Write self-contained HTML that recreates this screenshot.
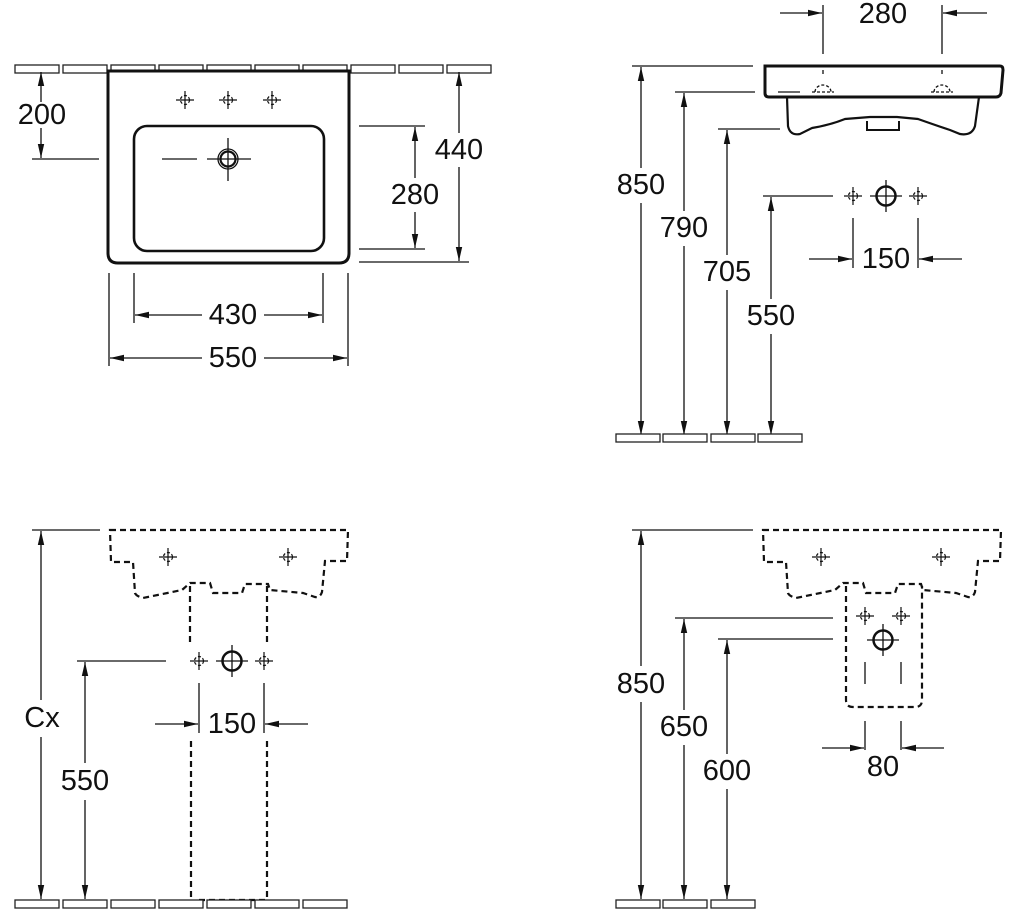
<!DOCTYPE html>
<html><head><meta charset="utf-8"><style>
html,body{margin:0;padding:0;background:#fff;}
svg{display:block}
text{font-family:"Liberation Sans",sans-serif;font-size:29px;fill:#111;text-anchor:middle;dominant-baseline:central}
</style></head><body>
<svg width="1024" height="915" viewBox="0 0 1024 915" xmlns="http://www.w3.org/2000/svg">
<defs>
<marker id="a" viewBox="0 0 14 7" refX="14" refY="3.5" markerWidth="14" markerHeight="7" markerUnits="userSpaceOnUse" orient="auto"><path d="M0,0.3 L14,3.5 L0,6.7z" fill="#111"/></marker>
<g id="tap"><circle r="4.5" fill="none" stroke="#111" stroke-width="1.2" stroke-dasharray="3 2"/><path d="M-9,0H9M0,-9V9" stroke="#111" stroke-width="1.2"/></g>
<g id="big"><circle r="9.5" fill="none" stroke="#111" stroke-width="2.5"/><path d="M-16,0H16M0,-16V16" stroke="#111" stroke-width="1.3"/></g>
<g id="tile"><rect x="0" y="0" width="44" height="8" fill="#fff" stroke="#222" stroke-width="1.3"/></g>
</defs>
<g stroke="#111" fill="none" stroke-width="1.3">
<!-- Panel 1 -->
<use href="#tile" x="15" y="65"/><use href="#tile" x="63" y="65"/><use href="#tile" x="111" y="65"/><use href="#tile" x="159" y="65"/><use href="#tile" x="207" y="65"/><use href="#tile" x="255" y="65"/><use href="#tile" x="303" y="65"/><use href="#tile" x="351" y="65"/><use href="#tile" x="399" y="65"/><use href="#tile" x="447" y="65"/>
<path d="M108,71 H349 V253 Q349,263 339,263 H118 Q108,263 108,253 Z" stroke-width="3" fill="#fff"/>
<rect x="134" y="126" width="190" height="125" rx="13" stroke-width="2.6"/>
<use href="#tap" x="185" y="100"/><use href="#tap" x="228" y="100"/><use href="#tap" x="272" y="100"/>
<circle cx="228" cy="159" r="10" stroke-width="1.3"/><circle cx="228" cy="159" r="7.5" stroke-width="2.2"/>
<path d="M162,159H197 M207,159H251 M228,138V181"/>
<path d="M32,159H99"/>
<path d="M41,102V72" marker-end="url(#a)"/>
<path d="M41,128V158" marker-end="url(#a)"/>
<path d="M359,126H425 M359,249H425 M359,262H469"/>
<path d="M415,178V127" marker-end="url(#a)"/>
<path d="M415,212V248" marker-end="url(#a)"/>
<path d="M459,133V72" marker-end="url(#a)"/>
<path d="M459,167V261" marker-end="url(#a)"/>
<path d="M134,273V323 M323,273V323 M109,273V366 M348,273V366"/>
<path d="M202,315H135" marker-end="url(#a)"/>
<path d="M264,315H322" marker-end="url(#a)"/>
<path d="M202,358H110" marker-end="url(#a)"/>
<path d="M264,358H347" marker-end="url(#a)"/>
<!-- Panel 2 -->
<path d="M823,5V54 M942,5V54"/>
<path d="M780,13H822" marker-end="url(#a)"/>
<path d="M987,13H943" marker-end="url(#a)"/>
<path d="M765,66 H1000 Q1003,66 1003,70 L1001,93 Q1000,97 996,97 H769 Q765,97 765,93 Z" stroke-width="3"/>
<path d="M787,97 L788,126 Q790,136 800,134 L812,128 Q830,125 845,119 L870,117 H897 L918,119 Q935,125 950,130 L960,134 Q972,136 975,126 L979,97" stroke-width="2.2"/>
<path d="M867,121V130H899V121" stroke-width="2"/>
<path d="M823,70V76 M942,70V76" stroke-dasharray="4 3"/>
<path d="M815,92 A8,7 0 0 1 831,92 M934,92 A8,7 0 0 1 950,92 M812,92H834 M931,92H953" stroke-dasharray="3 2"/>
<path d="M778,92H800"/>
<path d="M632,66H753 M675,92H755 M718,129H780 M763,196H833"/>
<path d="M641,168V67" marker-end="url(#a)"/>
<path d="M641,203V435" marker-end="url(#a)"/>
<path d="M684,211V93" marker-end="url(#a)"/>
<path d="M684,246V435" marker-end="url(#a)"/>
<path d="M727,255V130" marker-end="url(#a)"/>
<path d="M727,290V435" marker-end="url(#a)"/>
<path d="M771,299V197" marker-end="url(#a)"/>
<path d="M771,334V435" marker-end="url(#a)"/>
<use href="#tap" x="853" y="196"/><use href="#big" x="886" y="196"/><use href="#tap" x="918" y="196"/>
<path d="M853,218V268 M918,218V268"/>
<path d="M809,259H852" marker-end="url(#a)"/>
<path d="M962,259H919" marker-end="url(#a)"/>
<use href="#tile" x="616" y="434"/><use href="#tile" x="663" y="434"/><use href="#tile" x="711" y="434"/><use href="#tile" x="758" y="434"/>
<!-- Panel 3 -->
<g id="bshape"><path d="M110,530 H348 L347,561 H325 L322,592 Q320,598 315,597 L303,593 L270,590 L268,584 H245 L242,593 H213 L210,583 H190 L182,590 L143,598 Q136,596 135,593 L133,562 H111 Z" stroke-width="2.2" stroke-dasharray="6 4"/>
<use href="#tap" x="168" y="557"/><use href="#tap" x="288" y="557"/></g>
<path d="M190,586V645 M267,586V645 M191,741V898 M267,741V898 M199,900H267" stroke-width="2.2" stroke-dasharray="6 4"/>
<path d="M32,530H100 M77,661H166"/>
<path d="M41,700V531" marker-end="url(#a)"/>
<path d="M41,737V899" marker-end="url(#a)"/>
<path d="M85,763V662" marker-end="url(#a)"/>
<path d="M85,800V899" marker-end="url(#a)"/>
<use href="#tap" x="199" y="661"/><use href="#big" x="232" y="661"/><use href="#tap" x="264" y="661"/>
<path d="M199,683V733 M264,683V733"/>
<path d="M155,724H198" marker-end="url(#a)"/>
<path d="M308,724H265" marker-end="url(#a)"/>
<use href="#tile" x="15" y="900"/><use href="#tile" x="63" y="900"/><use href="#tile" x="111" y="900"/><use href="#tile" x="159" y="900"/><use href="#tile" x="207" y="900"/><use href="#tile" x="255" y="900"/><use href="#tile" x="303" y="900"/>
<!-- Panel 4 -->
<use href="#bshape" x="653" y="0"/>
<path d="M846,586V700 Q846,707 853,707 H915 Q922,707 922,700 V586" stroke-width="2.2" stroke-dasharray="6 4"/>
<use href="#tap" x="865" y="616"/><use href="#tap" x="901" y="616"/><use href="#big" x="883" y="640"/>
<path d="M865,662V684 M901,662V684 M865,721V750 M901,721V750"/>
<path d="M822,748H864" marker-end="url(#a)"/>
<path d="M944,748H902" marker-end="url(#a)"/>
<path d="M632,530H753 M675,618H833 M718,639H833"/>
<path d="M641,666V531" marker-end="url(#a)"/>
<path d="M641,702V899" marker-end="url(#a)"/>
<path d="M684,710V619" marker-end="url(#a)"/>
<path d="M684,745V899" marker-end="url(#a)"/>
<path d="M727,754V640" marker-end="url(#a)"/>
<path d="M727,789V899" marker-end="url(#a)"/>
<use href="#tile" x="616" y="900"/><use href="#tile" x="663" y="900"/><use href="#tile" x="711" y="900"/>
</g>
<g>
<text x="42" y="115">200</text>
<text x="415" y="195">280</text>
<text x="459" y="150">440</text>
<text x="233" y="315">430</text><text x="233" y="358">550</text>
<text x="883" y="14">280</text>
<text x="641" y="185">850</text>
<text x="684" y="228">790</text>
<text x="727" y="272">705</text>
<text x="771" y="316">550</text>
<text x="886" y="259">150</text>
<text x="42" y="718">Cx</text>
<text x="85" y="781">550</text>
<text x="232" y="724">150</text>
<text x="641" y="684">850</text>
<text x="684" y="727">650</text>
<text x="727" y="771">600</text>
<text x="883" y="767">80</text>
</g>
</svg>
</body></html>
